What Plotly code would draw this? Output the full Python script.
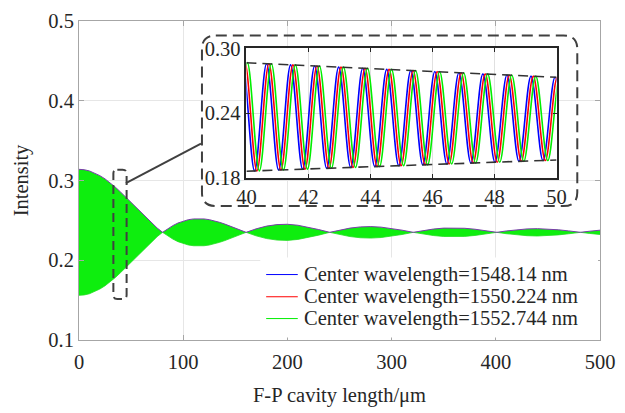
import plotly.graph_objects as go

# ---------------- data ----------------
# envelope of the densely oscillating main trace (F-P cavity length in um)
env_x = [0, 5, 10, 15, 20, 25, 30, 35, 40, 45, 50, 55, 60, 65, 70, 75, 80.2,
         85, 90, 95, 100, 105, 110, 115, 120, 125, 130, 135, 140, 145, 150, 155, 160.4,
         170, 180, 190, 200, 210, 220, 230, 240.6,
         250, 260, 270, 280, 290, 300, 310, 320.8,
         330, 340, 350, 360, 370, 380, 390, 401,
         410, 420, 430, 440, 450, 460, 470, 481.2,
         490, 500]
env_upper = [0.3140, 0.3135, 0.3120, 0.3095, 0.3061, 0.3020, 0.2970, 0.2915, 0.2854, 0.2790,
             0.2723, 0.2656, 0.2589, 0.2524, 0.2462, 0.2404, 0.2350,
             0.2394, 0.2434, 0.2467, 0.2492, 0.2509, 0.2518, 0.2522, 0.2518, 0.2509, 0.2494,
             0.2475, 0.2453, 0.2429, 0.2403, 0.2377, 0.2350,
             0.2394, 0.2428, 0.2447, 0.2451, 0.2439, 0.2416, 0.2385, 0.2350,
             0.2379, 0.2403, 0.2418, 0.2422, 0.2415, 0.2399, 0.2377, 0.2350,
             0.2372, 0.2391, 0.2403, 0.2406, 0.2401, 0.2389, 0.2372, 0.2350,
             0.2367, 0.2383, 0.2393, 0.2396, 0.2392, 0.2382, 0.2368, 0.2350,
             0.2364, 0.2377]
env_lower = [0.1560, 0.1565, 0.1580, 0.1605, 0.1639, 0.1680, 0.1730, 0.1785, 0.1846, 0.1910,
             0.1977, 0.2044, 0.2111, 0.2176, 0.2238, 0.2296, 0.2350,
             0.2306, 0.2266, 0.2233, 0.2209, 0.2191, 0.2182, 0.2178, 0.2182, 0.2191, 0.2206,
             0.2225, 0.2247, 0.2271, 0.2297, 0.2323, 0.2350,
             0.2306, 0.2272, 0.2253, 0.2249, 0.2261, 0.2284, 0.2315, 0.2350,
             0.2321, 0.2297, 0.2282, 0.2278, 0.2285, 0.2301, 0.2323, 0.2350,
             0.2328, 0.2310, 0.2298, 0.2294, 0.2299, 0.2311, 0.2328, 0.2350,
             0.2333, 0.2318, 0.2308, 0.2304, 0.2308, 0.2318, 0.2332, 0.2350,
             0.2336, 0.2323]

# inset: positions of successive troughs/peaks (um) for each centre wavelength
blue_ext_x = [39.488, 39.875, 40.263, 40.65, 41.038, 41.425, 41.813, 42.2, 42.588, 42.975,
              43.363, 43.75, 44.138, 44.525, 44.913, 45.3, 45.688, 46.075, 46.463, 46.85,
              47.238, 47.625, 48.013, 48.4, 48.788, 49.175, 49.563, 49.95, 50.338]
red_ext_x = [39.563, 39.95, 40.338, 40.725, 41.113, 41.5, 41.888, 42.275, 42.663, 43.05,
             43.438, 43.825, 44.213, 44.6, 44.988, 45.375, 45.763, 46.15, 46.538, 46.925,
             47.313, 47.7, 48.088, 48.475, 48.863, 49.25, 49.638, 50.025, 50.413]
green_ext_x = [39.643, 40.03, 40.418, 40.805, 41.193, 41.58, 41.968, 42.355, 42.743, 43.13,
               43.518, 43.905, 44.293, 44.68, 45.068, 45.455, 45.843, 46.23, 46.618, 47.005,
               47.393, 47.78, 48.168, 48.555, 48.943, 49.33, 49.718, 50.105, 50.493]
ext_y = [0.1862, 0.2868, 0.1866, 0.2857, 0.1874, 0.2847, 0.1882, 0.2837, 0.1890, 0.2826,
         0.1898, 0.2816, 0.1906, 0.2805, 0.1914, 0.2795, 0.1922, 0.2785, 0.1930, 0.2774,
         0.1938, 0.2764, 0.1946, 0.2753, 0.1954, 0.2743, 0.1962, 0.2733, 0.1970]

# inset envelope guide lines
guide_x = [40, 50]
guide_top = [0.2866, 0.2732]
guide_bottom = [0.1863, 0.1967]

legend_labels = ["Center wavelength=1548.14 nm",
                 "Center wavelength=1550.224 nm",
                 "Center wavelength=1552.744 nm"]
series_colors = ["#0000ff", "#ff0000", "#00ee00"]

# ---------------- figure ----------------
FONT = "Liberation Serif, Times New Roman, serif"
TXT = "#262626"
W, H = 625, 413
ML, MR, MT, MB = 78.5, 19, 10, 72.5
PW, PH = W - ML - MR, H - MT - MB
FNT = dict(family=FONT, size=20.5, color=TXT)


def px2paper(px, py):
    return (px - ML) / PW, (H - MB - py) / PH


def rounded_rect(x0, y0, x1, y1, r):
    # pixel coords in, paper-coord SVG path out
    ax0, ay0 = px2paper(x0, y0)
    ax1, ay1 = px2paper(x1, y1)
    rx, ry = r / PW, r / PH
    top, bot = max(ay0, ay1), min(ay0, ay1)
    left, right = min(ax0, ax1), max(ax0, ax1)
    return (f"M {left + rx},{top} L {right - rx},{top} Q {right},{top} {right},{top - ry} "
            f"L {right},{bot + ry} Q {right},{bot} {right - rx},{bot} "
            f"L {left + rx},{bot} Q {left},{bot} {left},{bot + ry} "
            f"L {left},{top - ry} Q {left},{top} {left + rx},{top} Z")


fig = go.Figure()

# main band (dense oscillation shown through its envelope)
fig.add_trace(go.Scatter(x=env_x, y=env_lower, mode="lines",
                         line=dict(color="#20dd20", width=0.8),
                         showlegend=False, hoverinfo="skip", xaxis="x", yaxis="y"))
fig.add_trace(go.Scatter(x=env_x, y=env_upper, mode="lines",
                         line=dict(color="#7a3caa", width=1),
                         fill="tonexty", fillcolor="rgb(14,238,14)",
                         showlegend=False, hoverinfo="skip", xaxis="x", yaxis="y"))

# inset curves
for xs, col in zip([blue_ext_x, red_ext_x, green_ext_x], series_colors):
    fig.add_trace(go.Scatter(x=xs, y=ext_y, mode="lines",
                             line=dict(color=col, width=1.6, shape="spline"),
                             showlegend=False, xaxis="x2", yaxis="y2"))
for gy in [guide_top, guide_bottom]:
    fig.add_trace(go.Scatter(x=guide_x, y=gy, mode="lines",
                             line=dict(color="#333333", width=1.6, dash="10px,6px"),
                             showlegend=False, hoverinfo="skip", xaxis="x2", yaxis="y2"))

shapes = []
annotations = []

# dashed rounded boxes and connector
shapes.append(dict(type="path", xref="paper", yref="paper", layer="above",
                   path=rounded_rect(203, 25, 583, 201.7, 14),
                   line=dict(color="#404040", width=2, dash="11px,6px")))
shapes.append(dict(type="path", xref="paper", yref="paper", layer="above",
                   path=rounded_rect(113.3, 164, 126.7, 298, 4),
                   line=dict(color="#404040", width=2, dash="9px,5px")))
cx0, cy0 = px2paper(126, 178)
cx1, cy1 = px2paper(202, 137)
shapes.append(dict(type="line", xref="paper", yref="paper", layer="above",
                   x0=cx0, y0=cy0, x1=cx1, y1=cy1,
                   line=dict(color="#404040", width=2)))

# manual legend
bx0, by0 = px2paper(262, 255)
bx1, by1 = px2paper(604, 338)
shapes.append(dict(type="rect", xref="paper", yref="paper", layer="above",
                   x0=bx0, y0=by1, x1=bx1, y1=by0, fillcolor="white",
                   line=dict(width=0)))
for row_y, lab, col in zip([272.7, 295.7, 318.3], legend_labels, series_colors):
    lx0, ly = px2paper(268, row_y)
    lx1, _ = px2paper(300, row_y)
    shapes.append(dict(type="line", xref="paper", yref="paper", layer="above",
                       x0=lx0, y0=ly, x1=lx1, y1=ly, line=dict(color=col, width=1)))
    tx, _ = px2paper(304, row_y)
    annotations.append(dict(xref="paper", yref="paper", x=tx, y=ly, text=lab,
                            showarrow=False, xanchor="left", yanchor="middle",
                            font=FNT))

ix0, iy0 = px2paper(248, 172.7)
ix1, iy1 = px2paper(562, 38.3)

fig.update_layout(
    width=W, height=H,
    margin=dict(l=ML, r=MR, t=MT, b=MB, pad=0),
    paper_bgcolor="white", plot_bgcolor="white",
    font=FNT,
    showlegend=False,
    xaxis=dict(domain=[0, 1], range=[0, 500], dtick=100, tick0=0, tickfont=FNT,
               ticklabelstandoff=3,
               showline=True, linecolor="#a6a6a6", linewidth=1, mirror="ticks",
               ticks="inside", ticklen=5, tickcolor="#a6a6a6",
               showgrid=True, gridcolor="#e6e6e6", zeroline=False,
               title=dict(text="F-P cavity length/μm", standoff=16, font=FNT)),
    yaxis=dict(domain=[0, 1], range=[0.1, 0.5], dtick=0.1, tick0=0.1, tickformat=".1f",
               tickfont=FNT,
               showline=True, linecolor="#a6a6a6", linewidth=1, mirror="ticks",
               ticks="inside", ticklen=5, tickcolor="#a6a6a6",
               showgrid=True, gridcolor="#e6e6e6", zeroline=False,
               title=dict(text="Intensity", standoff=14, font=FNT)),
    xaxis2=dict(domain=[ix0, ix1], anchor="y2", range=[40, 50], dtick=2, tick0=40,
                tickfont=FNT,
                showline=True, linecolor="#262626", linewidth=1.5, mirror="ticks",
                ticks="inside", ticklen=4, tickcolor="#262626",
                showgrid=True, gridcolor="#e0e0e0", zeroline=False),
    yaxis2=dict(domain=[iy0, iy1], anchor="x2", range=[0.18, 0.30],
                tickvals=[0.18, 0.24, 0.30], ticktext=["0.18", "0.24", "0.30"],
                tickfont=FNT,
                showline=True, linecolor="#262626", linewidth=1.5, mirror="ticks",
                ticks="inside", ticklen=4, tickcolor="#262626",
                showgrid=True, gridcolor="#e0e0e0", zeroline=False),
    shapes=shapes,
    annotations=annotations,
)

fig.write_html("out.html")
